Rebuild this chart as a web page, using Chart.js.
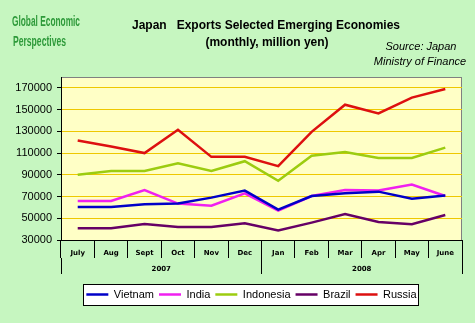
<!DOCTYPE html>
<html>
<head>
<meta charset="utf-8">
<script src="https://cdn.jsdelivr.net/npm/chart.js@4.4.1/dist/chart.umd.min.js"></script>
<style>
  html, body { margin: 0; padding: 0; background: #c6f6c0; }
  #wrap { position: relative; width: 475px; height: 323px; }
</style>
</head>
<body>
<div id="wrap"><canvas id="chart" width="475" height="323"></canvas></div>
<script>
const months = ['July', 'Aug', 'Sept', 'Oct', 'Nov', 'Dec', 'Jan', 'Feb', 'Mar', 'Apr', 'May', 'June'];
const years = ['2007', '2008'];
const yTicks = [30000, 50000, 70000, 90000, 110000, 130000, 150000, 170000];

const vietnam   = [60300, 60300, 63000, 63500, 69000, 75500, 58000, 70500, 73000, 74500, 68000, 71000];
const india     = [66000, 66000, 76000, 63500, 61500, 73000, 57000, 70500, 76000, 75500, 81000, 70500];
const indonesia = [90000, 93500, 93500, 100500, 93500, 102500, 84500, 107500, 111000, 105500, 105500, 115000];
const brazil    = [40800, 40800, 44800, 42000, 42000, 45500, 38700, 46000, 53800, 46500, 44500, 53000];
const russia    = [121500, 116000, 110000, 131500, 106500, 106500, 98000, 129500, 154500, 146500, 161000, 169000];

const seriesNames = ['Vietnam', 'India', 'Indonesia', 'Brazil', 'Russia'];
const seriesData = [vietnam, india, indonesia, brazil, russia];
const seriesColors = ['#0000c8', '#f020f0', '#9ccc10', '#660066', '#dd1010'];

// plot frame, legend box and the loose texts
const decor = {
    id: 'decor',
    afterLayout(chart) {
        // legend sits a bit right of the canvas centre in the original
        chart.legend.left += 13;
        chart.legend.right += 13;
    },
    beforeDraw(chart) {
        const ctx = chart.ctx;
        const a = chart.chartArea;
        ctx.save();
        ctx.fillStyle = '#ffffc6';
        ctx.fillRect(a.left, a.top, a.right - a.left, a.bottom - a.top);
        ctx.strokeStyle = '#808080';
        ctx.lineWidth = 1;
        ctx.strokeRect(a.left + 0.5, a.top + 0.5, a.right - a.left - 1, a.bottom - a.top);

        const boxes = chart.legend.legendHitBoxes;
        if (boxes && boxes.length) {
            const l = Math.min(...boxes.map(b => b.left)) - 3;
            const r = Math.max(...boxes.map(b => b.left + b.width)) + 2;
            const t = boxes[0].top - 5;
            const h = boxes[0].height + 10;
            ctx.fillStyle = '#ffffff';
            ctx.fillRect(l, t, r - l, h);
            ctx.strokeStyle = '#000000';
            ctx.strokeRect(Math.round(l) + 0.5, Math.round(t) + 0.5, Math.round(r - l), Math.round(h));
        }
        ctx.restore();
    },
    afterDraw(chart) {
        const ctx = chart.ctx;
        ctx.save();
        ctx.textBaseline = 'middle';
        ctx.fillStyle = '#000000';
        ctx.textAlign = 'center';
        ctx.font = 'bold 12px "Liberation Sans", Arial, sans-serif';
        ctx.fillText('Japan   Exports Selected Emerging Economies', 266, 26);
        ctx.fillText('(monthly, million yen)', 267, 43);

        ctx.font = 'italic 11px "Liberation Sans", Arial, sans-serif';
        ctx.fillText('Source: Japan', 421, 47);
        ctx.fillText('Ministry of Finance', 420, 62);

        ctx.textAlign = 'left';
        ctx.fillStyle = '#2e9a3a';
        ctx.font = 'bold 14px "Liberation Sans", Arial, sans-serif';
        ctx.fillText('Global Economic', 12, 22, 68);
        ctx.fillText('Perspectives', 13, 42, 53);
        ctx.restore();
    }
};

const datasets = seriesNames.map((name, i) => ({
    label: name,
    data: seriesData[i],
    borderColor: seriesColors[i],
    backgroundColor: seriesColors[i],
    borderWidth: 2.5,
    pointRadius: 0,
    tension: 0,
    fill: false
}));

const smallFont = { family: '"DejaVu Sans", sans-serif', size: 7, weight: 'bold' };

new Chart(document.getElementById('chart'), {
    type: 'line',
    data: { labels: months, datasets: datasets },
    plugins: [decor],
    options: {
        responsive: false,
        animation: false,
        layout: { padding: { top: 77, left: 15, right: 13, bottom: 13 } },
        plugins: {
            title: { display: false },
            tooltip: { enabled: false },
            legend: {
                position: 'bottom',
                labels: {
                    usePointStyle: true,
                    pointStyle: 'line',
                    pointStyleWidth: 22,
                    padding: 5,
                    color: '#000000',
                    font: { family: '"Liberation Sans", Arial, sans-serif', size: 11 }
                }
            }
        },
        scales: {
            x: {
                type: 'category',
                weight: 0,
                offset: true,
                grid: { offset: true, drawOnChartArea: false, color: '#000000', tickLength: 18 },
                border: { display: true, color: '#000000', width: 1 },
                ticks: { color: '#000000', font: smallFont, padding: -9, maxRotation: 0, autoSkip: false },
                afterFit: s => { s.height = 18; }
            },
            x2: {
                type: 'category',
                position: 'bottom',
                weight: 1,
                labels: years,
                offset: true,
                grid: { offset: true, drawOnChartArea: false, color: '#000000', tickLength: 16 },
                border: { display: false },
                ticks: { color: '#000000', font: smallFont, padding: -9, maxRotation: 0 },
                afterFit: s => { s.height = 26; }
            },
            y: {
                min: 30000,
                max: 180000,
                afterBuildTicks: s => { s.ticks = yTicks.map(v => ({ value: v })); },
                grid: { color: '#eec800', tickColor: '#000000', tickLength: 4 },
                border: { display: true, color: '#000000', width: 1 },
                ticks: {
                    color: '#000000',
                    padding: 5,
                    font: { family: '"Liberation Sans", Arial, sans-serif', size: 11 },
                    callback: v => String(v)
                },
                afterFit: s => { s.width = 46; }
            }
        }
    }
});
</script>
</body>
</html>
